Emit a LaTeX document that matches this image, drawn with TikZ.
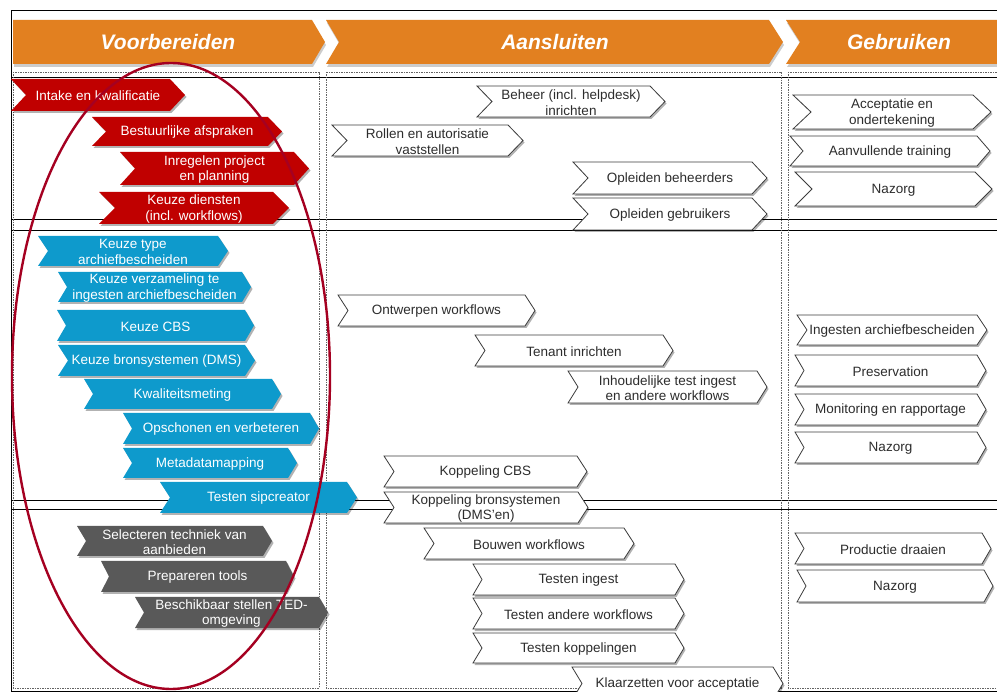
\documentclass[tikz,border=0pt]{standalone}
\usepackage{fontspec}
\setmainfont{Liberation Sans}
\usetikzlibrary{shadows}

\definecolor{hdr}{RGB}{226,128,32}
\definecolor{cred}{RGB}{192,0,0}
\definecolor{cblue}{RGB}{14,154,204}
\definecolor{cgray}{RGB}{89,89,89}
\definecolor{oval}{RGB}{165,0,33}
\definecolor{txtdark}{RGB}{45,45,45}
\definecolor{edge}{RGB}{60,60,60}
\definecolor{colline}{RGB}{100,100,100}

\tikzset{
  shd/.style={drop shadow={shadow xshift=1.5pt, shadow yshift=-2pt, opacity=.3, fill=black}},
  chevR/.style={fill=cred, shd},
  chevB/.style={fill=cblue, shd},
  chevG/.style={fill=cgray, shd},
  chevW/.style={fill=white, draw=edge, line width=.8pt, line join=miter, shd},
  txtW/.style={text=white, font=\fontsize{13.5}{15.5}\selectfont, align=center, inner sep=0pt, yshift=-1pt},
  txtD/.style={text=txtdark, font=\fontsize{13.5}{15.5}\selectfont, align=center, inner sep=0pt, yshift=-1pt},
  hdrbox/.style={fill=hdr, drop shadow={shadow xshift=1pt, shadow yshift=-3pt, opacity=.2, fill=black}},
  hdrtxt/.style={text=white, font=\fontsize{21}{24}\selectfont\bfseries\itshape, inner sep=0pt},
  rowline/.style={draw=black, line width=.8pt},
  colbox/.style={draw=colline, line width=.7pt, dash pattern=on 1.5pt off 1pt},
}

% chevron: shape style, text style, name, left x, right corner x, top y, bottom y, depth, text
\newcommand{\chev}[9]{%
  \pgfmathsetmacro\chYm{(#6+#7)/2}%
  \pgfmathsetmacro\chXn{#4+#8}%
  \pgfmathsetmacro\chXt{#5+#8}%
  \pgfmathsetmacro\chXm{(#4+#5+#8)/2}%
  \path[#1] (#4,#6) -- (#5,#6) -- (\chXt,\chYm) -- (#5,#7) -- (#4,#7) -- (\chXn,\chYm) -- cycle;
  \node[#2] (#3) at (\chXm,\chYm) {#9};
}

\begin{document}
\begin{tikzpicture}[x=1pt, y=-1pt]
\useasboundingbox (0,0) rectangle (997,692);
\fill[white] (0,0) rectangle (997,692);

% frame and row bands
\draw[rowline] (997,10) -- (11,10) -- (11,691) -- (997,691);
\foreach \yy in {77.5,219.5,230.5,500.5,509} {
  \draw[rowline] (11,\yy) -- (997,\yy);
}

% dashed phase columns
\draw[colbox] (13,72) rectangle (319,688);
\draw[colbox] (326,72) rectangle (781,688);
\draw[colbox] (788,72) rectangle (1005,688);

% phase headers
\path[hdrbox] (13,20) -- (312,20) -- (325,42) -- (312,64) -- (13,64) -- cycle;
\path[hdrbox] (326,20) -- (769,20) -- (783,42) -- (769,64) -- (326,64) -- (339,42) -- cycle;
\path[hdrbox] (786,20) -- (1005,20) -- (1005,64) -- (786,64) -- (800,42) -- cycle;
\node[hdrtxt] (h1) at (168,42) {Voorbereiden};
\node[hdrtxt] (h2) at (555,42) {Aansluiten};
\node[hdrtxt] (h3) at (899,42) {Gebruiken};

% Voorbereiden: red
\chev{chevR}{txtW}{intake}{11}{170}{79}{111}{15}{Intake en kwalificatie}
\chev{chevR}{txtW}{bestuur}{92}{268}{117}{146}{14}{Bestuurlijke afspraken}
\chev{chevR}{txtW}{inregel}{120}{294}{152}{185}{15}{Inregelen project\\en planning}
\chev{chevR}{txtW}{diensten}{99}{273}{192}{224}{16}{Keuze diensten\\(incl. workflows)}

% Voorbereiden: blue
\chev{chevB}{txtW}{typearch}{38}{218}{236}{266}{10}{Keuze type\\archiefbescheiden}
\chev{chevB}{txtW}{verzam}{58}{242}{272}{302}{9}{Keuze verzameling te\\ingesten archiefbescheiden}
\chev{chevB}{txtW}{kcbs}{57}{245}{310}{341}{9}{Keuze CBS}
\chev{chevB}{txtW}{kbron}{58}{245}{345}{376}{10}{Keuze bronsystemen (DMS)}
\chev{chevB}{txtW}{kwal}{84}{272}{379}{409}{9}{Kwaliteitsmeting}
\chev{chevB}{txtW}{opsch}{123}{310}{413}{444}{9}{Opschonen en verbeteren}
\chev{chevB}{txtW}{meta}{123}{288}{448}{478}{9}{Metadatamapping}
\chev{chevB}{txtW}{sip}{160}{347}{482}{513}{10}{Testen sipcreator}

% Voorbereiden: gray
\chev{chevG}{txtW}{selec}{77}{263}{526}{556}{9}{Selecteren techniek van\\aanbieden}
\chev{chevG}{txtW}{prep}{101}{286}{561}{592}{8}{Prepareren tools}
\chev{chevG}{txtW}{ted}{135}{319}{597}{628}{9}{Beschikbaar stellen TED-\\omgeving}

% Aansluiten
\chev{chevW}{txtD}{beheer}{477}{650}{86}{117}{15}{Beheer (incl. helpdesk)\\inrichten}
\chev{chevW}{txtD}{rollen}{332}{508}{125}{156}{15}{Rollen en autorisatie\\vaststellen}
\chev{chevW}{txtD}{oplbeh}{573}{752}{162}{194}{15}{Opleiden beheerders}
\chev{chevW}{txtD}{oplgeb}{573}{752}{198}{230}{15}{Opleiden gebruikers}
\chev{chevW}{txtD}{ontw}{338}{525}{295}{326}{10}{Ontwerpen workflows}
\chev{chevW}{txtD}{tenant}{475}{663}{335}{366}{10}{Tenant inrichten}
\chev{chevW}{txtD}{inhoud}{568}{757}{371}{403}{10}{Inhoudelijke test ingest\\en andere workflows}
\chev{chevW}{txtD}{kopcbs}{384}{577}{456}{487}{10}{Koppeling CBS}
\chev{chevW}{txtD}{kopbron}{384}{578}{492}{523}{10}{Koppeling bronsystemen\\(DMS'en)}
\chev{chevW}{txtD}{bouwen}{424}{624}{528}{559}{10}{Bouwen workflows}
\chev{chevW}{txtD}{tingest}{473}{675}{564}{595}{9}{Testen ingest}
\chev{chevW}{txtD}{tander}{473}{675}{598}{629}{9}{Testen andere workflows}
\chev{chevW}{txtD}{tkop}{473}{675}{633}{663}{9}{Testen koppelingen}
\chev{chevW}{txtD}{klaar}{572}{773}{667}{700}{10}{Klaarzetten voor acceptatie}

% Gebruiken
\chev{chevW}{txtD}{accept}{793}{973}{95}{129}{18}{Acceptatie en\\ondertekening}
\chev{chevW}{txtD}{aanvul}{790}{977}{136}{166}{13}{Aanvullende training}
\chev{chevW}{txtD}{nazorgA}{795}{975}{172}{206}{17}{Nazorg}
\chev{chevW}{txtD}{ingest}{797}{977}{315}{345}{10}{Ingesten archiefbescheiden}
\chev{chevW}{txtD}{preserv}{795}{977}{355}{386}{9}{Preservation}
\chev{chevW}{txtD}{monit}{795}{977}{394}{425}{9}{Monitoring en rapportage}
\chev{chevW}{txtD}{nazorgB}{795}{977}{432}{463}{9}{Nazorg}
\chev{chevW}{txtD}{prod}{795}{982}{533}{564}{9}{Productie draaien}
\chev{chevW}{txtD}{nazorgC}{797}{984}{570}{602}{9}{Nazorg}

% highlight oval over the preparation phase
\draw[oval, line width=2.4pt] (171,376) ellipse [x radius=159, y radius=313];
\end{tikzpicture}
\end{document}
